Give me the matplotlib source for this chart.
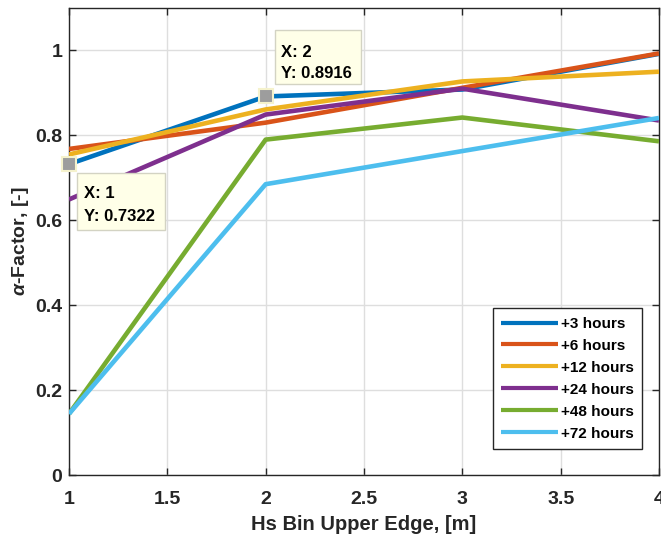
import matplotlib
matplotlib.use("Agg")
import matplotlib.pyplot as plt
import matplotlib.transforms as mtransforms
from matplotlib.patches import Rectangle

plt.rcParams['font.family'] = ['Liberation Sans', 'DejaVu Sans']
plt.rcParams['font.weight'] = 'bold'
plt.rcParams['mathtext.fontset'] = 'custom'
plt.rcParams['mathtext.it'] = 'Liberation Sans:italic:bold'
plt.rcParams['mathtext.rm'] = 'Liberation Sans:bold'

# Hs bin upper edges [m]
hs_edges = [1, 2, 3, 4]

# alpha-factor per forecast horizon
series_labels = ['+3 hours', '+6 hours', '+12 hours', '+24 hours', '+48 hours', '+72 hours']
alpha_3h = [0.7322, 0.8916, 0.908, 0.992]
alpha_6h = [0.768, 0.830, 0.912, 0.993]
alpha_12h = [0.755, 0.861, 0.927, 0.950]
alpha_24h = [0.649, 0.849, 0.910, 0.835]
alpha_48h = [0.144, 0.790, 0.842, 0.786]
alpha_72h = [0.144, 0.685, 0.763, 0.841]

# data tips
tip_points = [(1, 0.7322), (2, 0.8916)]

xticks = [1, 1.5, 2, 2.5, 3, 3.5, 4]
xtick_labels = ['1', '1.5', '2', '2.5', '3', '3.5', '4']
yticks = [0, 0.2, 0.4, 0.6, 0.8, 1.0]
ytick_labels = ['0', '0.2', '0.4', '0.6', '0.8', '1']

colors = ['#0072BD', '#D95319', '#EDB120', '#7E2F8E', '#77AC30', '#4DBEEE']
ink = '#262626'

fig = plt.figure(figsize=(6.61, 5.36), dpi=100)
ax = fig.add_axes([69 / 661, (536 - 475) / 536, 590 / 661, 467 / 536])

all_series = [alpha_3h, alpha_6h, alpha_12h, alpha_24h, alpha_48h, alpha_72h]
for vals, lab, col in zip(all_series, series_labels, colors):
    ax.plot(hs_edges, vals, color=col, lw=3.3, label=lab, solid_capstyle='butt', zorder=3)

ax.set_xlim(1, 4)
ax.set_ylim(0, 1.1)
ax.set_xticks(xticks)
ax.set_xticklabels(xtick_labels)
ax.set_yticks(yticks)
ax.set_yticklabels(ytick_labels)
ax.tick_params(direction='in', top=True, right=True, length=5, width=1,
               labelsize=14, color=ink, labelcolor=ink)
ax.tick_params(axis='x', pad=11.5)
ax.tick_params(axis='y', pad=4.8)
for lbl in ax.get_xticklabels() + ax.get_yticklabels():
    lbl.set_fontweight('bold')
ax.grid(True, color='#dedede', lw=1)
ax.set_axisbelow(True)
for sp in ax.spines.values():
    sp.set_color(ink)
    sp.set_linewidth(1)

ax.set_xlabel('Hs Bin Upper Edge, [m]', fontsize=14.5, fontweight='bold', color=ink, labelpad=5)
ax.set_ylabel(r'$\alpha$-Factor, [-]', fontsize=14, fontweight='bold', color=ink, labelpad=3)

leg = ax.legend(loc='lower right', bbox_to_anchor=(573 / 590, 26 / 467), borderaxespad=0,
                handlelength=3.75, handletextpad=0.15, labelspacing=0.52,
                borderpad=0.55, fancybox=False, framealpha=1, edgecolor=ink,
                prop={'weight': 'bold', 'size': 11})
leg.get_frame().set_linewidth(1)
for h in leg.get_lines():
    h.set_linewidth(3)

# data tips: box and text placed in pixel offsets from the marked point
tip_layout = [
    # (box x0, box y0, width, height, text x, line1 baseline, line2 baseline)
    (8, -66, 88, 57, 15, -34, -57),
    (9, 12, 86, 54, 15, 39, 18),
]
for (px, py), (bx, by, bw, bh, tx, ty1, ty2) in zip(tip_points, tip_layout):
    ax.plot([px], [py], marker='s', ms=10, mfc='#9d9d9d', mec='#f5f2cc', mew=1.5,
            zorder=6, clip_on=False)
    anchor = mtransforms.ScaledTranslation(px, py, ax.transData)
    trans = mtransforms.Affine2D() + anchor
    ax.add_patch(Rectangle((bx, by), bw, bh, transform=trans, fc='#ffffe8',
                           ec='#d3d3c3', lw=1, zorder=7, clip_on=False))
    ax.text(tx, ty1, f'X: {px}', transform=trans, ha='left', va='baseline',
            fontsize=12, fontweight='bold', color='black', zorder=8, clip_on=False)
    ax.text(tx, ty2, f'Y: {py:.4f}', transform=trans, ha='left', va='baseline',
            fontsize=12, fontweight='bold', color='black', zorder=8, clip_on=False)

fig.savefig('out.png', dpi=100)
